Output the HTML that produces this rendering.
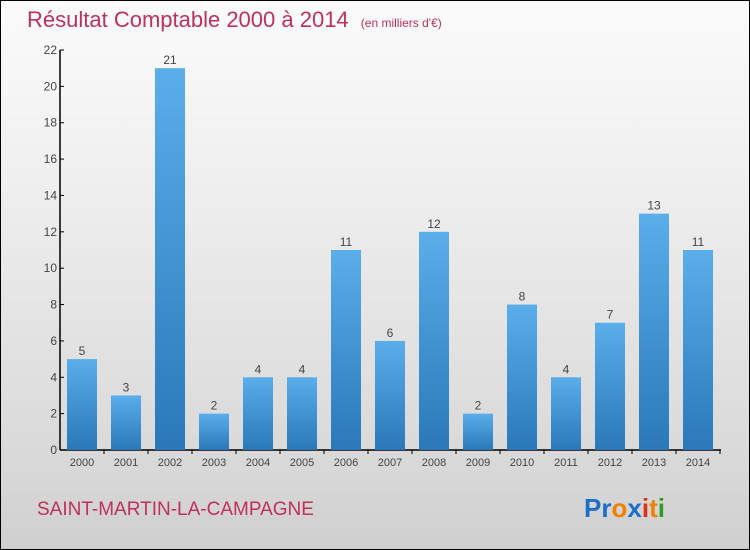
<!DOCTYPE html>
<html><head><meta charset="utf-8"><style>
body{margin:0;}
#wrap{position:relative;width:748px;height:548px;border:1px solid #000;background:linear-gradient(#fbfbfb,#f0f0f0 30%,#d8d8d8 85%,#cfcfcf);font-family:"Liberation Sans",sans-serif;overflow:hidden}
</style></head><body>
<div id="wrap">
<svg id="c" width="748" height="548">
<defs><linearGradient id="g" x1="0" y1="0" x2="0" y2="1"><stop offset="0" stop-color="#5aaeea"/><stop offset="1" stop-color="#2a78b8"/></linearGradient></defs>
<text x="26" y="26" font-size="22" fill="#c0305a">Résultat Comptable 2000 à 2014 <tspan font-size="12" dx="6">(en milliers d'€)</tspan></text>
<text x="36" y="514" font-size="19" fill="#c0305a">SAINT-MARTIN-LA-CAMPAGNE</text>
<text x="583" y="516" font-size="26" font-weight="bold"><tspan fill="#1a6fc8">Pr</tspan><tspan fill="#f08000">o</tspan><tspan fill="#1a6fc8">x</tspan><tspan fill="#e03010">i</tspan><tspan fill="#f08000">t</tspan><tspan fill="#28a028">i</tspan></text>
<g id="plot"></g>
</svg></div>
<script>
const years=["2000","2001","2002","2003","2004","2005","2006","2007","2008","2009","2010","2011","2012","2013","2014"];
const values=[5,3,21,2,4,4,11,6,12,2,8,4,7,13,11];
const yTicks=[0,2,4,6,8,10,12,14,16,18,20,22];
const NS="http://www.w3.org/2000/svg";
const g=document.getElementById('plot');
const y0=449,yTop=49,yMax=22,x0=59;
const ys=v=>y0-(y0-yTop)*v/yMax;
const xs=i=>66+i*44;
function el(t,a){const e=document.createElementNS(NS,t);for(const k in a)e.setAttribute(k,a[k]);g.appendChild(e);return e;}
let ax=el('line',{x1:x0,y1:yTop,x2:x0,y2:y0,stroke:'#000','stroke-width':1.5});


let bx=el('line',{x1:x0,y1:y0,x2:720,y2:y0,stroke:'#000','stroke-width':1.5});


yTicks.forEach(t=>{
 const tk=el('line',{x1:x0,y1:ys(t),x2:x0+4,y2:ys(t),stroke:'#000'});
 
 
 const tl=el('text',{x:x0-3,y:ys(t)+4,'text-anchor':'end','font-size':12,fill:'#444'});
 tl.textContent=t;
 
 
});
years.forEach((yr,i)=>{
 const v=values[i];
 const r=el('rect',{x:xs(i),y:ys(v),width:30,height:y0-ys(v),fill:'url(#g)'});
 
 
 const vl=el('text',{x:xs(i)+15,y:ys(v)-4,'text-anchor':'middle','font-size':12,fill:'#444'});
 vl.textContent=v;
 
 
 const tk=el('line',{x1:xs(i)+15+22,y1:y0,x2:xs(i)+15+22,y2:y0+4,stroke:'#000'});
 
 
 const xl=el('text',{x:xs(i)+15,y:y0+16,'text-anchor':'middle','font-size':11,fill:'#444'});
 xl.textContent=yr;
 
 
});
</script>
</body></html>
